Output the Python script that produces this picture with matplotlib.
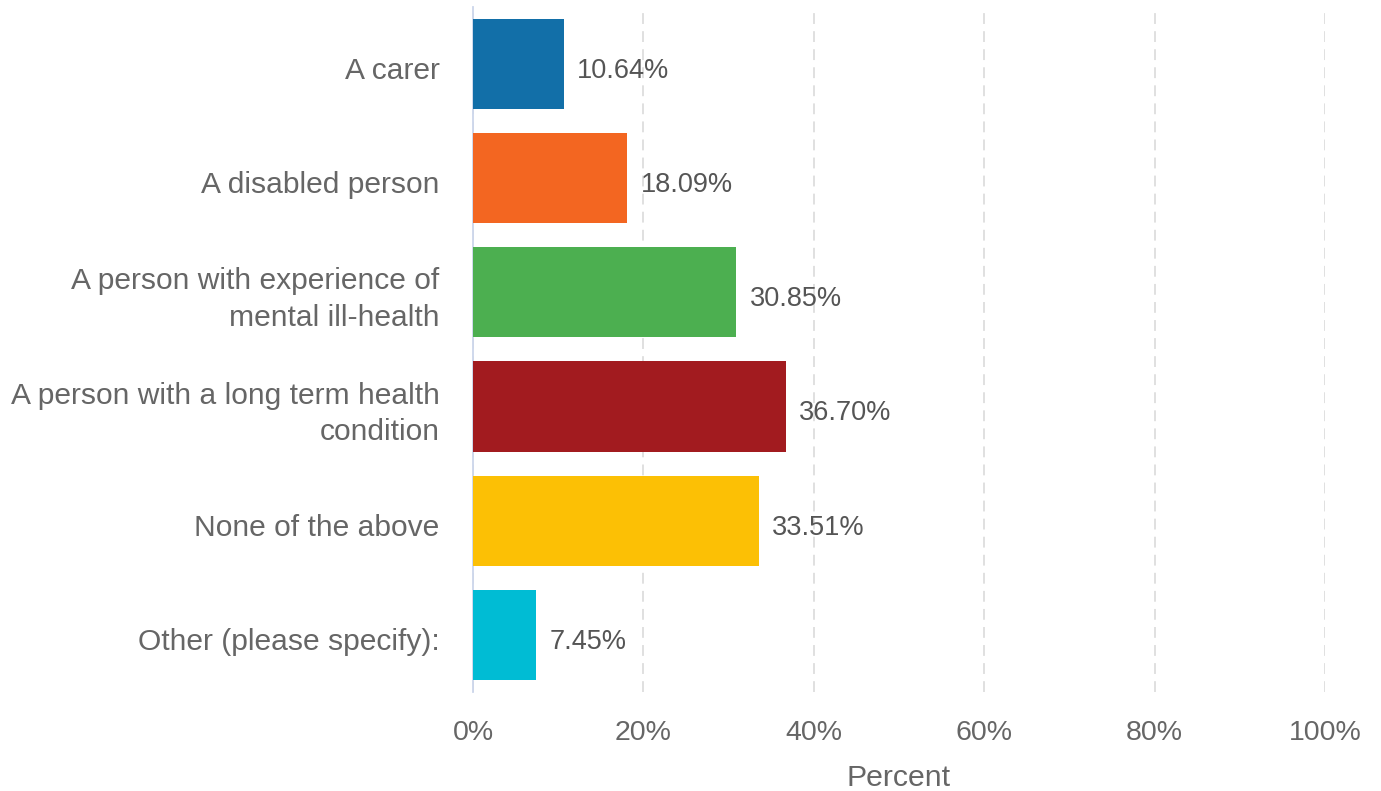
import matplotlib
matplotlib.use("Agg")
import matplotlib.pyplot as plt
import matplotlib.transforms as mtransforms
from matplotlib.ticker import FuncFormatter

plt.rcParams['font.family'] = ['Liberation Sans', 'DejaVu Sans']

categories = [
    "A carer",
    "A disabled person",
    "A person with experience of\nmental ill-health",
    "A person with a long term health\ncondition",
    "None of the above",
    "Other (please specify):",
]
percents = [10.64, 18.09, 30.85, 36.70, 33.51, 7.45]
colors = ["#126fa8", "#f36621", "#4caf50", "#a21b1f", "#fcc005", "#00bcd4"]
x_ticks = [0, 20, 40, 60, 80, 100]

fig = plt.figure(figsize=(13.81, 7.91), dpi=100)
ax = fig.add_axes([0.3425, 0.1252, 0.617, 0.866])

ypos = list(range(len(categories)))
ax.barh(ypos, percents, height=0.79, color=colors, zorder=3)

for y, v in zip(ypos, percents):
    ax.text(v + 1.6, y + 0.06, f"{v:.2f}%", va="center", ha="left",
            fontsize=19.5, color="#555555", zorder=4)

ax.set_xlim(0, 100)
ax.set_ylim(len(categories) - 0.5, -0.5)
ax.set_yticks(ypos)
ax.set_yticklabels(categories, fontsize=21.6, color="#666666", linespacing=1.4)
ax.set_xticks(x_ticks)
ax.xaxis.set_major_formatter(FuncFormatter(lambda v, p: f"{v:.0f}%"))
ax.tick_params(axis="x", labelsize=20.5, labelcolor="#666666", length=0, pad=20)
ax.tick_params(axis="y", length=0, pad=24)
ax.set_xlabel("Percent", fontsize=21.8, color="#666666", labelpad=13)

# nudge single-line category labels down a little
shift = mtransforms.ScaledTranslation(0, -3 / 72, fig.dpi_scale_trans)
for lbl in ax.get_yticklabels():
    if "\n" not in lbl.get_text():
        lbl.set_transform(lbl.get_transform() + shift)

ax.grid(axis="x", color="#dddddd", linestyle=(0, (6, 4)), linewidth=1.3, zorder=0)
for s in ["top", "right", "bottom"]:
    ax.spines[s].set_visible(False)
ax.spines["left"].set_color("#ccd6eb")
ax.spines["left"].set_linewidth(1.3)

fig.savefig("out.png", dpi=100)
